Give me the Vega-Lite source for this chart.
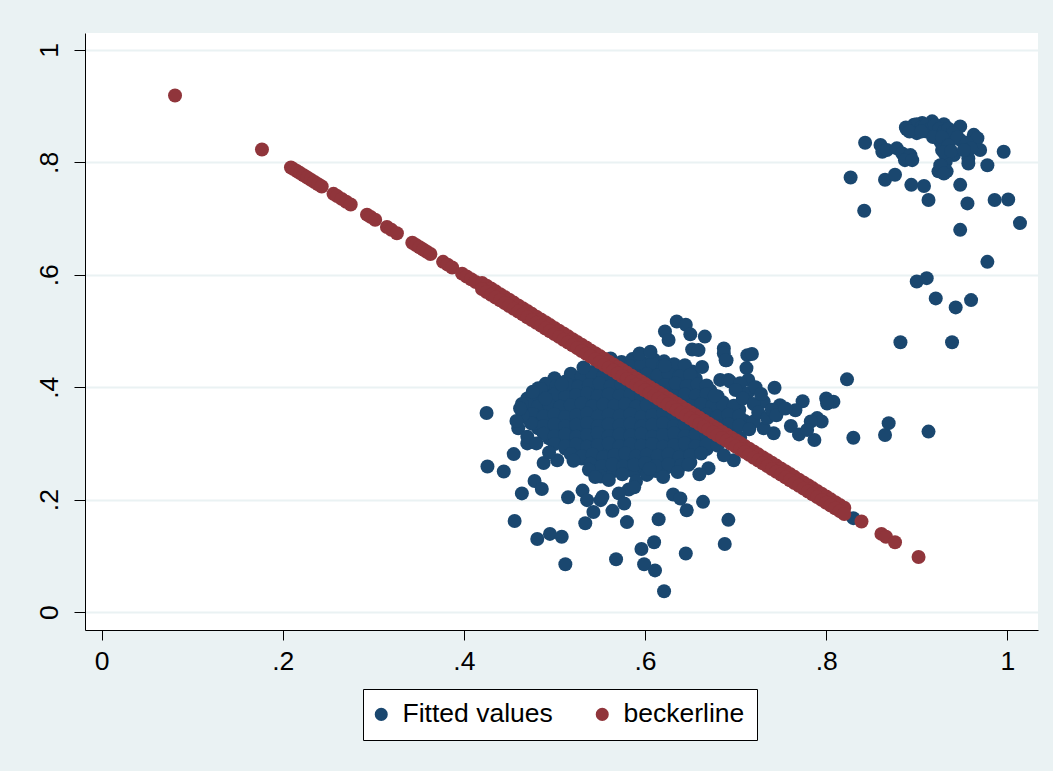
{
"$schema":"https://vega.github.io/schema/vega-lite/v6.json",
"width":953,"height":597,"autosize":"none",
"padding":{"left":85,"top":33,"right":15,"bottom":141},
"background":"#EAF2F3",
"config":{"view":{"stroke":null,"fill":"white"},"font":"Liberation Sans"},
"datasets":{
"fitted":[
{"x":0.562,"y":0.451},{"x":0.574,"y":0.445},{"x":0.586,"y":0.450},{"x":0.598,"y":0.443},{"x":0.610,"y":0.449},{"x":0.621,"y":0.446},
{"x":0.533,"y":0.434},{"x":0.545,"y":0.428},{"x":0.557,"y":0.433},{"x":0.569,"y":0.426},{"x":0.581,"y":0.431},{"x":0.593,"y":0.435},{"x":0.605,"y":0.427},{"x":0.617,"y":0.432},{"x":0.629,"y":0.429},{"x":0.641,"y":0.434},{"x":0.652,"y":0.428},
{"x":0.500,"y":0.416},{"x":0.512,"y":0.410},{"x":0.524,"y":0.415},{"x":0.536,"y":0.409},{"x":0.548,"y":0.414},{"x":0.560,"y":0.411},{"x":0.572,"y":0.417},{"x":0.584,"y":0.410},{"x":0.596,"y":0.413},{"x":0.608,"y":0.416},{"x":0.620,"y":0.409},{"x":0.632,"y":0.414},{"x":0.644,"y":0.411},{"x":0.656,"y":0.415},
{"x":0.482,"y":0.398},{"x":0.494,"y":0.392},{"x":0.506,"y":0.397},{"x":0.518,"y":0.391},{"x":0.530,"y":0.396},{"x":0.542,"y":0.393},{"x":0.554,"y":0.399},{"x":0.566,"y":0.392},{"x":0.578,"y":0.395},{"x":0.590,"y":0.398},{"x":0.602,"y":0.391},{"x":0.614,"y":0.396},{"x":0.626,"y":0.393},{"x":0.638,"y":0.397},{"x":0.650,"y":0.392},{"x":0.662,"y":0.396},{"x":0.672,"y":0.394},
{"x":0.470,"y":0.380},{"x":0.482,"y":0.374},{"x":0.494,"y":0.379},{"x":0.506,"y":0.373},{"x":0.518,"y":0.378},{"x":0.530,"y":0.375},{"x":0.542,"y":0.381},{"x":0.554,"y":0.374},{"x":0.566,"y":0.377},{"x":0.578,"y":0.380},{"x":0.590,"y":0.373},{"x":0.602,"y":0.378},{"x":0.614,"y":0.375},{"x":0.626,"y":0.379},{"x":0.638,"y":0.374},{"x":0.650,"y":0.378},{"x":0.662,"y":0.376},{"x":0.674,"y":0.381},{"x":0.686,"y":0.373},
{"x":0.476,"y":0.362},{"x":0.488,"y":0.356},{"x":0.500,"y":0.361},{"x":0.512,"y":0.355},{"x":0.524,"y":0.360},{"x":0.536,"y":0.357},{"x":0.548,"y":0.363},{"x":0.560,"y":0.356},{"x":0.572,"y":0.359},{"x":0.584,"y":0.362},{"x":0.596,"y":0.355},{"x":0.608,"y":0.360},{"x":0.620,"y":0.357},{"x":0.632,"y":0.361},{"x":0.644,"y":0.356},{"x":0.656,"y":0.360},{"x":0.668,"y":0.358},{"x":0.680,"y":0.363},{"x":0.692,"y":0.355},{"x":0.704,"y":0.360},
{"x":0.470,"y":0.345},{"x":0.482,"y":0.339},{"x":0.494,"y":0.344},{"x":0.506,"y":0.338},{"x":0.518,"y":0.343},{"x":0.530,"y":0.340},{"x":0.542,"y":0.346},{"x":0.554,"y":0.339},{"x":0.566,"y":0.342},{"x":0.578,"y":0.345},{"x":0.590,"y":0.338},{"x":0.602,"y":0.343},{"x":0.614,"y":0.340},{"x":0.626,"y":0.344},{"x":0.638,"y":0.339},{"x":0.650,"y":0.343},{"x":0.662,"y":0.341},{"x":0.674,"y":0.346},{"x":0.686,"y":0.338},{"x":0.698,"y":0.343},{"x":0.710,"y":0.340},
{"x":0.482,"y":0.327},{"x":0.494,"y":0.321},{"x":0.506,"y":0.326},{"x":0.518,"y":0.320},{"x":0.530,"y":0.325},{"x":0.542,"y":0.322},{"x":0.554,"y":0.328},{"x":0.566,"y":0.321},{"x":0.578,"y":0.324},{"x":0.590,"y":0.327},{"x":0.602,"y":0.320},{"x":0.614,"y":0.325},{"x":0.626,"y":0.322},{"x":0.638,"y":0.326},{"x":0.650,"y":0.321},{"x":0.662,"y":0.325},{"x":0.674,"y":0.323},{"x":0.686,"y":0.328},{"x":0.698,"y":0.320},
{"x":0.494,"y":0.309},{"x":0.506,"y":0.303},{"x":0.518,"y":0.308},{"x":0.530,"y":0.302},{"x":0.542,"y":0.307},{"x":0.554,"y":0.304},{"x":0.566,"y":0.310},{"x":0.578,"y":0.303},{"x":0.590,"y":0.306},{"x":0.602,"y":0.309},{"x":0.614,"y":0.302},{"x":0.626,"y":0.307},{"x":0.638,"y":0.304},{"x":0.650,"y":0.308},{"x":0.662,"y":0.303},{"x":0.674,"y":0.307},{"x":0.686,"y":0.305},
{"x":0.512,"y":0.291},{"x":0.524,"y":0.285},{"x":0.536,"y":0.290},{"x":0.548,"y":0.284},{"x":0.560,"y":0.289},{"x":0.572,"y":0.286},{"x":0.584,"y":0.292},{"x":0.596,"y":0.285},{"x":0.608,"y":0.288},{"x":0.620,"y":0.291},{"x":0.632,"y":0.284},{"x":0.644,"y":0.289},{"x":0.656,"y":0.286},{"x":0.668,"y":0.290},
{"x":0.530,"y":0.273},{"x":0.542,"y":0.267},{"x":0.554,"y":0.272},{"x":0.566,"y":0.266},{"x":0.578,"y":0.271},{"x":0.590,"y":0.268},{"x":0.602,"y":0.274},{"x":0.614,"y":0.267},{"x":0.626,"y":0.270},{"x":0.638,"y":0.273},{"x":0.650,"y":0.266},
{"x":0.552,"y":0.256},{"x":0.564,"y":0.250},{"x":0.576,"y":0.255},{"x":0.588,"y":0.249},{"x":0.600,"y":0.254},{"x":0.612,"y":0.251},{"x":0.624,"y":0.257},
{"x":0.548,"y":0.441},{"x":0.560,"y":0.438},{"x":0.572,"y":0.442},{"x":0.584,"y":0.437},{"x":0.596,"y":0.440},{"x":0.608,"y":0.443},{"x":0.620,"y":0.438},{"x":0.632,"y":0.441},{"x":0.644,"y":0.439},
{"x":0.518,"y":0.424},{"x":0.530,"y":0.420},{"x":0.542,"y":0.423},{"x":0.554,"y":0.419},{"x":0.566,"y":0.422},{"x":0.578,"y":0.425},{"x":0.590,"y":0.420},{"x":0.602,"y":0.423},{"x":0.614,"y":0.421},{"x":0.626,"y":0.424},{"x":0.638,"y":0.419},{"x":0.650,"y":0.422},
{"x":0.490,"y":0.406},{"x":0.502,"y":0.402},{"x":0.514,"y":0.405},{"x":0.526,"y":0.401},{"x":0.538,"y":0.404},{"x":0.550,"y":0.407},{"x":0.562,"y":0.402},{"x":0.574,"y":0.405},{"x":0.586,"y":0.403},{"x":0.598,"y":0.406},{"x":0.610,"y":0.401},{"x":0.622,"y":0.404},{"x":0.634,"y":0.407},{"x":0.646,"y":0.402},{"x":0.658,"y":0.405},{"x":0.668,"y":0.403},
{"x":0.476,"y":0.388},{"x":0.488,"y":0.384},{"x":0.500,"y":0.387},{"x":0.512,"y":0.383},{"x":0.524,"y":0.386},{"x":0.536,"y":0.389},{"x":0.548,"y":0.384},{"x":0.560,"y":0.387},{"x":0.572,"y":0.385},{"x":0.584,"y":0.388},{"x":0.596,"y":0.383},{"x":0.608,"y":0.386},{"x":0.620,"y":0.389},{"x":0.632,"y":0.384},{"x":0.644,"y":0.387},{"x":0.656,"y":0.385},{"x":0.668,"y":0.388},{"x":0.680,"y":0.384},
{"x":0.470,"y":0.370},{"x":0.482,"y":0.366},{"x":0.494,"y":0.369},{"x":0.506,"y":0.365},{"x":0.518,"y":0.368},{"x":0.530,"y":0.371},{"x":0.542,"y":0.366},{"x":0.554,"y":0.369},{"x":0.566,"y":0.367},{"x":0.578,"y":0.370},{"x":0.590,"y":0.365},{"x":0.602,"y":0.368},{"x":0.614,"y":0.371},{"x":0.626,"y":0.366},{"x":0.638,"y":0.369},{"x":0.650,"y":0.367},{"x":0.662,"y":0.370},{"x":0.674,"y":0.366},{"x":0.686,"y":0.369},{"x":0.698,"y":0.367},
{"x":0.476,"y":0.352},{"x":0.488,"y":0.348},{"x":0.500,"y":0.351},{"x":0.512,"y":0.347},{"x":0.524,"y":0.350},{"x":0.536,"y":0.353},{"x":0.548,"y":0.348},{"x":0.560,"y":0.351},{"x":0.572,"y":0.349},{"x":0.584,"y":0.352},{"x":0.596,"y":0.347},{"x":0.608,"y":0.350},{"x":0.620,"y":0.353},{"x":0.632,"y":0.348},{"x":0.644,"y":0.351},{"x":0.656,"y":0.349},{"x":0.668,"y":0.352},{"x":0.680,"y":0.348},{"x":0.692,"y":0.351},{"x":0.704,"y":0.349},
{"x":0.476,"y":0.335},{"x":0.488,"y":0.331},{"x":0.500,"y":0.334},{"x":0.512,"y":0.330},{"x":0.524,"y":0.333},{"x":0.536,"y":0.336},{"x":0.548,"y":0.331},{"x":0.560,"y":0.334},{"x":0.572,"y":0.332},{"x":0.584,"y":0.335},{"x":0.596,"y":0.330},{"x":0.608,"y":0.333},{"x":0.620,"y":0.336},{"x":0.632,"y":0.331},{"x":0.644,"y":0.334},{"x":0.656,"y":0.332},{"x":0.668,"y":0.335},{"x":0.680,"y":0.331},{"x":0.692,"y":0.334},{"x":0.704,"y":0.332},
{"x":0.488,"y":0.317},{"x":0.500,"y":0.313},{"x":0.512,"y":0.316},{"x":0.524,"y":0.312},{"x":0.536,"y":0.315},{"x":0.548,"y":0.318},{"x":0.560,"y":0.313},{"x":0.572,"y":0.316},{"x":0.584,"y":0.314},{"x":0.596,"y":0.317},{"x":0.608,"y":0.312},{"x":0.620,"y":0.315},{"x":0.632,"y":0.318},{"x":0.644,"y":0.313},{"x":0.656,"y":0.316},{"x":0.668,"y":0.314},{"x":0.680,"y":0.317},{"x":0.692,"y":0.313},
{"x":0.500,"y":0.299},{"x":0.512,"y":0.295},{"x":0.524,"y":0.298},{"x":0.536,"y":0.294},{"x":0.548,"y":0.297},{"x":0.560,"y":0.300},{"x":0.572,"y":0.295},{"x":0.584,"y":0.298},{"x":0.596,"y":0.296},{"x":0.608,"y":0.299},{"x":0.620,"y":0.294},{"x":0.632,"y":0.297},{"x":0.644,"y":0.300},{"x":0.656,"y":0.295},{"x":0.668,"y":0.298},{"x":0.680,"y":0.296},
{"x":0.518,"y":0.281},{"x":0.530,"y":0.277},{"x":0.542,"y":0.280},{"x":0.554,"y":0.276},{"x":0.566,"y":0.279},{"x":0.578,"y":0.282},{"x":0.590,"y":0.277},{"x":0.602,"y":0.280},{"x":0.614,"y":0.278},{"x":0.626,"y":0.281},{"x":0.638,"y":0.276},{"x":0.650,"y":0.279},{"x":0.662,"y":0.282},
{"x":0.540,"y":0.264},{"x":0.552,"y":0.260},{"x":0.564,"y":0.263},{"x":0.576,"y":0.259},{"x":0.588,"y":0.262},{"x":0.600,"y":0.265},{"x":0.612,"y":0.260},{"x":0.626,"y":0.263},{"x":0.640,"y":0.261},
{"x":0.425,"y":0.354},{"x":0.426,"y":0.259},{"x":0.444,"y":0.250},{"x":0.455,"y":0.281},{"x":0.464,"y":0.370},{"x":0.460,"y":0.327},{"x":0.470,"y":0.300},{"x":0.478,"y":0.233},{"x":0.486,"y":0.219},{"x":0.464,"y":0.211},{"x":0.456,"y":0.162},{"x":0.481,"y":0.130},{"x":0.495,"y":0.139},{"x":0.508,"y":0.134},{"x":0.512,"y":0.085},{"x":0.515,"y":0.204},{"x":0.521,"y":0.269},{"x":0.488,"y":0.265},{"x":0.503,"y":0.270},{"x":0.494,"y":0.284},{"x":0.485,"y":0.397},{"x":0.508,"y":0.405},{"x":0.532,"y":0.435},{"x":0.538,"y":0.253},{"x":0.531,"y":0.216},{"x":0.536,"y":0.199},{"x":0.543,"y":0.178},{"x":0.534,"y":0.158},{"x":0.551,"y":0.241},{"x":0.551,"y":0.199},{"x":0.474,"y":0.336},
{"x":0.635,"y":0.517},{"x":0.645,"y":0.511},{"x":0.622,"y":0.499},{"x":0.626,"y":0.484},{"x":0.650,"y":0.494},{"x":0.666,"y":0.490},{"x":0.652,"y":0.467},{"x":0.659,"y":0.466},{"x":0.687,"y":0.469},{"x":0.690,"y":0.448},{"x":0.663,"y":0.436},{"x":0.622,"y":0.438},{"x":0.594,"y":0.460},{"x":0.606,"y":0.463},{"x":0.713,"y":0.457},{"x":0.712,"y":0.434},{"x":0.683,"y":0.413},{"x":0.692,"y":0.413},{"x":0.677,"y":0.385},{"x":0.602,"y":0.244},{"x":0.636,"y":0.249},{"x":0.670,"y":0.256},{"x":0.698,"y":0.270},{"x":0.582,"y":0.218},{"x":0.571,"y":0.211},{"x":0.577,"y":0.193},{"x":0.564,"y":0.180},{"x":0.580,"y":0.160},{"x":0.631,"y":0.209},{"x":0.639,"y":0.202},{"x":0.646,"y":0.181},{"x":0.664,"y":0.196},{"x":0.615,"y":0.165},{"x":0.692,"y":0.164},{"x":0.596,"y":0.112},{"x":0.610,"y":0.124},{"x":0.599,"y":0.085},{"x":0.611,"y":0.074},{"x":0.568,"y":0.094},{"x":0.645,"y":0.104},{"x":0.688,"y":0.121},{"x":0.621,"y":0.037},{"x":0.553,"y":0.205},
{"x":0.718,"y":0.459},{"x":0.687,"y":0.460},{"x":0.689,"y":0.448},{"x":0.823,"y":0.414},{"x":0.743,"y":0.399},{"x":0.714,"y":0.413},{"x":0.694,"y":0.410},{"x":0.705,"y":0.407},{"x":0.713,"y":0.389},{"x":0.774,"y":0.375},{"x":0.766,"y":0.359},{"x":0.749,"y":0.368},{"x":0.731,"y":0.374},{"x":0.800,"y":0.380},{"x":0.808,"y":0.374},{"x":0.801,"y":0.371},{"x":0.790,"y":0.345},{"x":0.795,"y":0.339},{"x":0.783,"y":0.339},{"x":0.761,"y":0.331},{"x":0.770,"y":0.316},{"x":0.787,"y":0.306},{"x":0.779,"y":0.324},{"x":0.830,"y":0.310},{"x":0.865,"y":0.315},{"x":0.869,"y":0.336},{"x":0.742,"y":0.318},{"x":0.731,"y":0.327},{"x":0.720,"y":0.339},{"x":0.687,"y":0.279},{"x":0.830,"y":0.167},{"x":0.913,"y":0.321},
{"x":0.700,"y":0.395},{"x":0.708,"y":0.380},{"x":0.720,"y":0.370},{"x":0.725,"y":0.355},{"x":0.735,"y":0.345},{"x":0.715,"y":0.325},{"x":0.705,"y":0.310},{"x":0.722,"y":0.400},{"x":0.728,"y":0.388},{"x":0.740,"y":0.360},{"x":0.745,"y":0.350},{"x":0.755,"y":0.362},
{"x":0.560,"y":0.235},{"x":0.575,"y":0.245},{"x":0.590,"y":0.232},{"x":0.605,"y":0.255},{"x":0.620,"y":0.240},{"x":0.648,"y":0.262},{"x":0.660,"y":0.245},{"x":0.588,"y":0.222},{"x":0.545,"y":0.240},
{"x":0.490,"y":0.380},{"x":0.476,"y":0.392},{"x":0.465,"y":0.350},{"x":0.458,"y":0.340},{"x":0.470,"y":0.312},{"x":0.480,"y":0.300},{"x":0.462,"y":0.362},
{"x":0.843,"y":0.835},{"x":0.827,"y":0.773},{"x":0.842,"y":0.714},{"x":0.860,"y":0.831},{"x":0.862,"y":0.819},{"x":0.867,"y":0.822},{"x":0.878,"y":0.825},{"x":0.884,"y":0.816},{"x":0.893,"y":0.813},{"x":0.887,"y":0.804},{"x":0.895,"y":0.804},{"x":0.865,"y":0.769},{"x":0.876,"y":0.778},{"x":0.894,"y":0.760},{"x":0.908,"y":0.758},{"x":0.913,"y":0.733},{"x":0.889,"y":0.859},{"x":0.897,"y":0.867},{"x":0.906,"y":0.870},{"x":0.917,"y":0.873},{"x":0.930,"y":0.868},{"x":0.900,"y":0.852},{"x":0.911,"y":0.855},{"x":0.922,"y":0.852},{"x":0.926,"y":0.837},{"x":0.937,"y":0.846},{"x":0.948,"y":0.864},{"x":0.948,"y":0.840},{"x":0.928,"y":0.822},{"x":0.933,"y":0.810},{"x":0.941,"y":0.813},{"x":0.932,"y":0.801},{"x":0.924,"y":0.784},{"x":0.933,"y":0.784},{"x":0.957,"y":0.807},{"x":0.957,"y":0.798},{"x":0.963,"y":0.849},{"x":0.967,"y":0.843},{"x":0.970,"y":0.822},{"x":0.978,"y":0.795},{"x":0.996,"y":0.819},{"x":0.948,"y":0.760},{"x":0.956,"y":0.727},{"x":0.986,"y":0.733},{"x":1.001,"y":0.734},{"x":1.014,"y":0.692},{"x":0.948,"y":0.680},
{"x":0.978,"y":0.623},{"x":0.900,"y":0.588},{"x":0.911,"y":0.594},{"x":0.921,"y":0.558},{"x":0.943,"y":0.542},{"x":0.960,"y":0.555},{"x":0.882,"y":0.480},{"x":0.939,"y":0.480},
{"x":0.895,"y":0.862},{"x":0.900,"y":0.868},{"x":0.905,"y":0.862},{"x":0.910,"y":0.866},{"x":0.915,"y":0.860},{"x":0.920,"y":0.866},{"x":0.925,"y":0.860},{"x":0.930,"y":0.855},{"x":0.935,"y":0.860},{"x":0.940,"y":0.852},{"x":0.945,"y":0.845},{"x":0.918,"y":0.845},{"x":0.928,"y":0.845},{"x":0.935,"y":0.830},{"x":0.930,"y":0.818},{"x":0.938,"y":0.820},{"x":0.955,"y":0.835},{"x":0.960,"y":0.825},{"x":0.952,"y":0.822},{"x":0.926,"y":0.795},{"x":0.930,"y":0.780},{"x":0.888,"y":0.862},{"x":0.892,"y":0.855},{"x":0.905,"y":0.855}
],
"becker":[
{"x":0.081,"y":0.919},{"x":0.177,"y":0.823},{"x":0.209,"y":0.791},{"x":0.212,"y":0.788},{"x":0.216,"y":0.784},{"x":0.219,"y":0.781},{"x":0.223,"y":0.777},{"x":0.227,"y":0.773},{"x":0.231,"y":0.769},{"x":0.235,"y":0.765},{"x":0.239,"y":0.761},{"x":0.243,"y":0.757},{"x":0.256,"y":0.744},{"x":0.260,"y":0.740},{"x":0.265,"y":0.735},{"x":0.270,"y":0.730},{"x":0.275,"y":0.725},{"x":0.293,"y":0.707},{"x":0.297,"y":0.703},{"x":0.302,"y":0.698},{"x":0.315,"y":0.685},{"x":0.320,"y":0.680},{"x":0.326,"y":0.674},{"x":0.343,"y":0.657},{"x":0.347,"y":0.653},{"x":0.351,"y":0.649},{"x":0.355,"y":0.645},{"x":0.359,"y":0.641},{"x":0.363,"y":0.637},{"x":0.377,"y":0.623},{"x":0.382,"y":0.618},{"x":0.387,"y":0.613},{"x":0.398,"y":0.602},{"x":0.403,"y":0.597},{"x":0.408,"y":0.592},{"x":0.413,"y":0.587},
{"x":0.420,"y":0.5855},{"x":0.425,"y":0.5805},{"x":0.430,"y":0.5755},{"x":0.435,"y":0.5705},{"x":0.440,"y":0.5655},{"x":0.445,"y":0.5605},{"x":0.450,"y":0.5555},{"x":0.455,"y":0.5505},{"x":0.460,"y":0.5455},{"x":0.465,"y":0.5405},{"x":0.470,"y":0.5355},{"x":0.475,"y":0.5305},{"x":0.480,"y":0.5255},{"x":0.485,"y":0.5205},{"x":0.490,"y":0.5155},{"x":0.495,"y":0.5105},{"x":0.500,"y":0.5055},{"x":0.505,"y":0.5005},{"x":0.510,"y":0.4955},{"x":0.515,"y":0.4905},{"x":0.520,"y":0.4855},{"x":0.525,"y":0.4805},{"x":0.530,"y":0.4755},{"x":0.535,"y":0.4705},{"x":0.540,"y":0.4655},{"x":0.545,"y":0.4605},{"x":0.550,"y":0.4555},{"x":0.555,"y":0.4505},{"x":0.560,"y":0.4455},{"x":0.565,"y":0.4405},{"x":0.570,"y":0.4355},{"x":0.575,"y":0.4305},{"x":0.580,"y":0.4255},{"x":0.585,"y":0.4205},{"x":0.590,"y":0.4155},{"x":0.595,"y":0.4105},{"x":0.600,"y":0.4055},{"x":0.605,"y":0.4005},{"x":0.610,"y":0.3955},{"x":0.615,"y":0.3905},{"x":0.620,"y":0.3855},{"x":0.625,"y":0.3805},{"x":0.630,"y":0.3755},{"x":0.635,"y":0.3705},{"x":0.640,"y":0.3655},{"x":0.645,"y":0.3605},{"x":0.650,"y":0.3555},{"x":0.655,"y":0.3505},{"x":0.660,"y":0.3455},{"x":0.665,"y":0.3405},{"x":0.670,"y":0.3355},{"x":0.675,"y":0.3305},{"x":0.680,"y":0.3255},{"x":0.685,"y":0.3205},{"x":0.690,"y":0.3155},{"x":0.695,"y":0.3105},{"x":0.700,"y":0.3055},{"x":0.705,"y":0.3005},{"x":0.710,"y":0.2955},{"x":0.715,"y":0.2905},{"x":0.720,"y":0.2855},{"x":0.725,"y":0.2805},{"x":0.730,"y":0.2755},{"x":0.735,"y":0.2705},{"x":0.740,"y":0.2655},{"x":0.745,"y":0.2605},{"x":0.750,"y":0.2555},{"x":0.755,"y":0.2505},{"x":0.760,"y":0.2455},{"x":0.765,"y":0.2405},{"x":0.770,"y":0.2355},{"x":0.775,"y":0.2305},{"x":0.780,"y":0.2255},{"x":0.785,"y":0.2205},{"x":0.790,"y":0.2155},{"x":0.795,"y":0.2105},{"x":0.800,"y":0.2055},{"x":0.805,"y":0.2005},{"x":0.810,"y":0.1955},{"x":0.815,"y":0.1905},{"x":0.820,"y":0.1855},
{"x":0.420,"y":0.5745},{"x":0.425,"y":0.5695},{"x":0.430,"y":0.5645},{"x":0.435,"y":0.5595},{"x":0.440,"y":0.5545},{"x":0.445,"y":0.5495},{"x":0.450,"y":0.5445},{"x":0.455,"y":0.5395},{"x":0.460,"y":0.5345},{"x":0.465,"y":0.5295},{"x":0.470,"y":0.5245},{"x":0.475,"y":0.5195},{"x":0.480,"y":0.5145},{"x":0.485,"y":0.5095},{"x":0.490,"y":0.5045},{"x":0.495,"y":0.4995},{"x":0.500,"y":0.4945},{"x":0.505,"y":0.4895},{"x":0.510,"y":0.4845},{"x":0.515,"y":0.4795},{"x":0.520,"y":0.4745},{"x":0.525,"y":0.4695},{"x":0.530,"y":0.4645},{"x":0.535,"y":0.4595},{"x":0.540,"y":0.4545},{"x":0.545,"y":0.4495},{"x":0.550,"y":0.4445},{"x":0.555,"y":0.4395},{"x":0.560,"y":0.4345},{"x":0.565,"y":0.4295},{"x":0.570,"y":0.4245},{"x":0.575,"y":0.4195},{"x":0.580,"y":0.4145},{"x":0.585,"y":0.4095},{"x":0.590,"y":0.4045},{"x":0.595,"y":0.3995},{"x":0.600,"y":0.3945},{"x":0.605,"y":0.3895},{"x":0.610,"y":0.3845},{"x":0.615,"y":0.3795},{"x":0.620,"y":0.3745},{"x":0.625,"y":0.3695},{"x":0.630,"y":0.3645},{"x":0.635,"y":0.3595},{"x":0.640,"y":0.3545},{"x":0.645,"y":0.3495},{"x":0.650,"y":0.3445},{"x":0.655,"y":0.3395},{"x":0.660,"y":0.3345},{"x":0.665,"y":0.3295},{"x":0.670,"y":0.3245},{"x":0.675,"y":0.3195},{"x":0.680,"y":0.3145},{"x":0.685,"y":0.3095},{"x":0.690,"y":0.3045},{"x":0.695,"y":0.2995},{"x":0.700,"y":0.2945},{"x":0.705,"y":0.2895},{"x":0.710,"y":0.2845},{"x":0.715,"y":0.2795},{"x":0.720,"y":0.2745},{"x":0.725,"y":0.2695},{"x":0.730,"y":0.2645},{"x":0.735,"y":0.2595},{"x":0.740,"y":0.2545},{"x":0.745,"y":0.2495},{"x":0.750,"y":0.2445},{"x":0.755,"y":0.2395},{"x":0.760,"y":0.2345},{"x":0.765,"y":0.2295},{"x":0.770,"y":0.2245},{"x":0.775,"y":0.2195},{"x":0.780,"y":0.2145},{"x":0.785,"y":0.2095},{"x":0.790,"y":0.2045},{"x":0.795,"y":0.1995},{"x":0.800,"y":0.1945},{"x":0.805,"y":0.1895},{"x":0.810,"y":0.1845},{"x":0.815,"y":0.1795},{"x":0.820,"y":0.1745},
{"x":0.839,"y":0.161},{"x":0.861,"y":0.139},{"x":0.866,"y":0.134},{"x":0.876,"y":0.124},{"x":0.902,"y":0.098}
]},
"encoding":{
"x":{"field":"x","type":"quantitative","scale":{"domain":[-0.0184,1.0339],"nice":false,"zero":false},
 "axis":{"values":[0,0.2,0.4,0.6,0.8,1],"grid":false,"title":null,"labelExpr":"replace(format(datum.value,'.1~f'),'0.','.')","labelFontSize":26.5,"labelFont":"Liberation Sans","labelColor":"#000","domainColor":"#000","tickColor":"#000","tickSize":10,"labelPadding":8,"domainWidth":1,"tickWidth":1,"labelFlush":false}},
"y":{"field":"y","type":"quantitative","scale":{"domain":[-0.032,1.0302],"nice":false,"zero":false},
 "axis":{"values":[0,0.2,0.4,0.6,0.8,1],"grid":true,"gridColor":"#EAF2F3","gridWidth":2,"title":null,"labelExpr":"replace(format(datum.value,'.1~f'),'0.','.')","labelAngle":-90,"labelFontSize":26.5,"labelFont":"Liberation Sans","labelColor":"#000","domainColor":"#000","tickColor":"#000","tickSize":11,"labelPadding":11,"domainWidth":1,"tickWidth":1,"labelFlush":false}}
},
"layer":[
{"data":{"name":"fitted"},"mark":{"type":"point","filled":true,"size":196,"opacity":1,"shape":"circle"},
 "encoding":{"color":{"datum":"Fitted values","type":"nominal","scale":{"domain":["Fitted values","beckerline"],"range":["#1A476F","#90353B"]},
  "legend":{"orient":"none","legendX":278,"legendY":656,"direction":"horizontal","title":null,"fillColor":"white","strokeColor":"#000","padding":12,"labelFontSize":26.5,"labelFont":"Liberation Sans","labelColor":"#000","symbolSize":170,"symbolType":"circle","symbolOffset":-7,"columnPadding":42,"labelOffset":8,"symbolStrokeWidth":0}}}},
{"data":{"name":"becker"},"mark":{"type":"point","filled":true,"size":196,"opacity":1,"shape":"circle"},
 "encoding":{"color":{"datum":"beckerline","type":"nominal"}}}
]
}
